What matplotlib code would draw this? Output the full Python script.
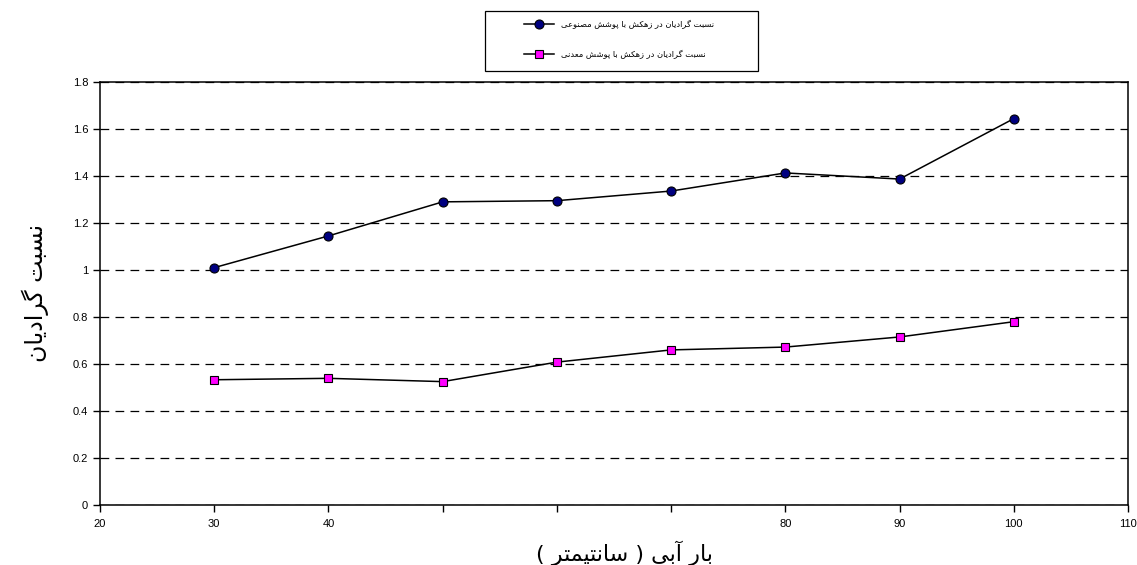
import matplotlib
matplotlib.use("Agg")
import matplotlib.pyplot as plt
from matplotlib.patches import Rectangle

# ---- data -------------------------------------------------------------
water_head = [30, 40, 50, 60, 70, 80, 90, 100]
ratio_synthetic = [1.01, 1.145, 1.29, 1.295, 1.336, 1.413, 1.387, 1.644]
ratio_mineral = [0.533, 0.539, 0.525, 0.608, 0.66, 0.672, 0.715, 0.78]

x_ticks = [20, 30, 40, 50, 60, 70, 80, 90, 100, 110]
x_tick_labels = ["20", "30", "40", "", "", "", "80", "90", "100", "110"]
y_ticks = [0, 0.2, 0.4, 0.6, 0.8, 1.0, 1.2, 1.4, 1.6, 1.8]
y_tick_labels = ["0", "0.2", "0.4", "0.6", "0.8", "1", "1.2", "1.4", "1.6", "1.8"]

label_synthetic = "نسبت گرادیان در زهکش با پوشش مصنوعی"
label_mineral = "نسبت گرادیان در زهکش با پوشش معدنی"
x_title = "بار آبی ( سانتیمتر )"
y_title = "نسبت گرادیان"

# ---- minimal Arabic-script shaping (matplotlib has no text shaping) ----
# letter: (isolated, final, initial, medial); 2-tuple -> right-joining only
FORMS = {
    "ا": (0xFE8D, 0xFE8E), "آ": (0xFE81, 0xFE82),
    "ب": (0xFE8F, 0xFE90, 0xFE91, 0xFE92), "پ": (0xFB56, 0xFB57, 0xFB58, 0xFB59),
    "ت": (0xFE95, 0xFE96, 0xFE97, 0xFE98), "ث": (0xFE99, 0xFE9A, 0xFE9B, 0xFE9C),
    "ج": (0xFE9D, 0xFE9E, 0xFE9F, 0xFEA0), "چ": (0xFB7A, 0xFB7B, 0xFB7C, 0xFB7D),
    "ح": (0xFEA1, 0xFEA2, 0xFEA3, 0xFEA4), "خ": (0xFEA5, 0xFEA6, 0xFEA7, 0xFEA8),
    "د": (0xFEA9, 0xFEAA), "ذ": (0xFEAB, 0xFEAC), "ر": (0xFEAD, 0xFEAE),
    "ز": (0xFEAF, 0xFEB0), "ژ": (0xFB8A, 0xFB8B),
    "س": (0xFEB1, 0xFEB2, 0xFEB3, 0xFEB4), "ش": (0xFEB5, 0xFEB6, 0xFEB7, 0xFEB8),
    "ص": (0xFEB9, 0xFEBA, 0xFEBB, 0xFEBC), "ض": (0xFEBD, 0xFEBE, 0xFEBF, 0xFEC0),
    "ط": (0xFEC1, 0xFEC2, 0xFEC3, 0xFEC4), "ظ": (0xFEC5, 0xFEC6, 0xFEC7, 0xFEC8),
    "ع": (0xFEC9, 0xFECA, 0xFECB, 0xFECC), "غ": (0xFECD, 0xFECE, 0xFECF, 0xFED0),
    "ف": (0xFED1, 0xFED2, 0xFED3, 0xFED4), "ق": (0xFED5, 0xFED6, 0xFED7, 0xFED8),
    "ک": (0xFB8E, 0xFB8F, 0xFB90, 0xFB91), "گ": (0xFB92, 0xFB93, 0xFB94, 0xFB95),
    "ل": (0xFEDD, 0xFEDE, 0xFEDF, 0xFEE0), "م": (0xFEE1, 0xFEE2, 0xFEE3, 0xFEE4),
    "ن": (0xFEE5, 0xFEE6, 0xFEE7, 0xFEE8), "ه": (0xFEE9, 0xFEEA, 0xFEEB, 0xFEEC),
    "و": (0xFEED, 0xFEEE), "ی": (0xFBFC, 0xFBFD, 0xFBFE, 0xFBFF),
    "ي": (0xFEF1, 0xFEF2, 0xFEF3, 0xFEF4),
}
MIRROR = {"(": ")", ")": "("}


def shape_word(word):
    """Return one word in joined presentation forms, in visual (LTR) order."""
    out = []
    for i, ch in enumerate(word):
        forms = FORMS.get(ch)
        if forms is None:
            out.append(MIRROR.get(ch, ch))
            continue
        prev = word[i - 1] if i > 0 else None
        nxt = word[i + 1] if i + 1 < len(word) else None
        join_prev = prev in FORMS and len(FORMS[prev]) == 4
        join_next = len(forms) == 4 and nxt in FORMS
        if join_prev and join_next:
            code = forms[3]
        elif join_prev:
            code = forms[1]
        elif join_next:
            code = forms[2]
        else:
            code = forms[0]
        out.append(chr(code))
    return "".join(reversed(out))


def rtl(text):
    """Right-to-left line laid out for a left-to-right renderer."""
    return " ".join(shape_word(w) for w in reversed(text.split()))


ARABIC_FONT = ["DejaVu Sans"]
plt.rcParams["font.family"] = ["Liberation Sans", "DejaVu Sans"]

W, H = 1137, 565
fig = plt.figure(figsize=(W / 100, H / 100), dpi=100)
ax = fig.add_axes([100 / W, 1 - 505 / H, 1028 / W, 423 / H])

ax.plot(water_head, ratio_synthetic, color="black", linewidth=1.1,
        marker="o", markersize=6.5, markerfacecolor="#000080",
        markeredgecolor="black", markeredgewidth=0.8,
        label=rtl(label_synthetic))
ax.plot(water_head, ratio_mineral, color="black", linewidth=1.1,
        marker="s", markersize=6, markerfacecolor="#FF00FF",
        markeredgecolor="black", markeredgewidth=0.8,
        label=rtl(label_mineral))

ax.set_xlim(20, 110)
ax.set_ylim(0, 1.8)
ax.set_xticks(x_ticks)
ax.set_xticklabels(x_tick_labels)
ax.set_yticks(y_ticks)
ax.set_yticklabels(y_tick_labels)
ax.tick_params(axis="both", labelsize=8, color="black", length=5, width=1,
               direction="out")
ax.tick_params(axis="x", pad=5)

ax.yaxis.grid(True, linestyle=(0, (7, 5)), color="black", linewidth=0.9)
ax.set_axisbelow(True)
for side in ax.spines.values():
    side.set_color("black")
    side.set_linewidth(1.1)

ax.set_xlabel(rtl(x_title), fontsize=16, family=ARABIC_FONT)
ax.xaxis.set_label_coords(0.51, -0.085)
ax.set_ylabel(rtl(y_title), fontsize=17, family=ARABIC_FONT, labelpad=17)

# legend box above the plot
fig.patches.append(Rectangle((485 / W, 1 - 71 / H), 273 / W, 60 / H,
                             transform=fig.transFigure, fill=False,
                             edgecolor="black", linewidth=0.9))
leg = fig.legend(loc="upper left", bbox_to_anchor=(524 / W, 1 - 20 / H),
                 frameon=False, prop={"family": ARABIC_FONT, "size": 6},
                 labelspacing=2.5, handlelength=3.6, handletextpad=0.8,
                 borderpad=0, borderaxespad=0)

fig.savefig("out.png", dpi=100)
